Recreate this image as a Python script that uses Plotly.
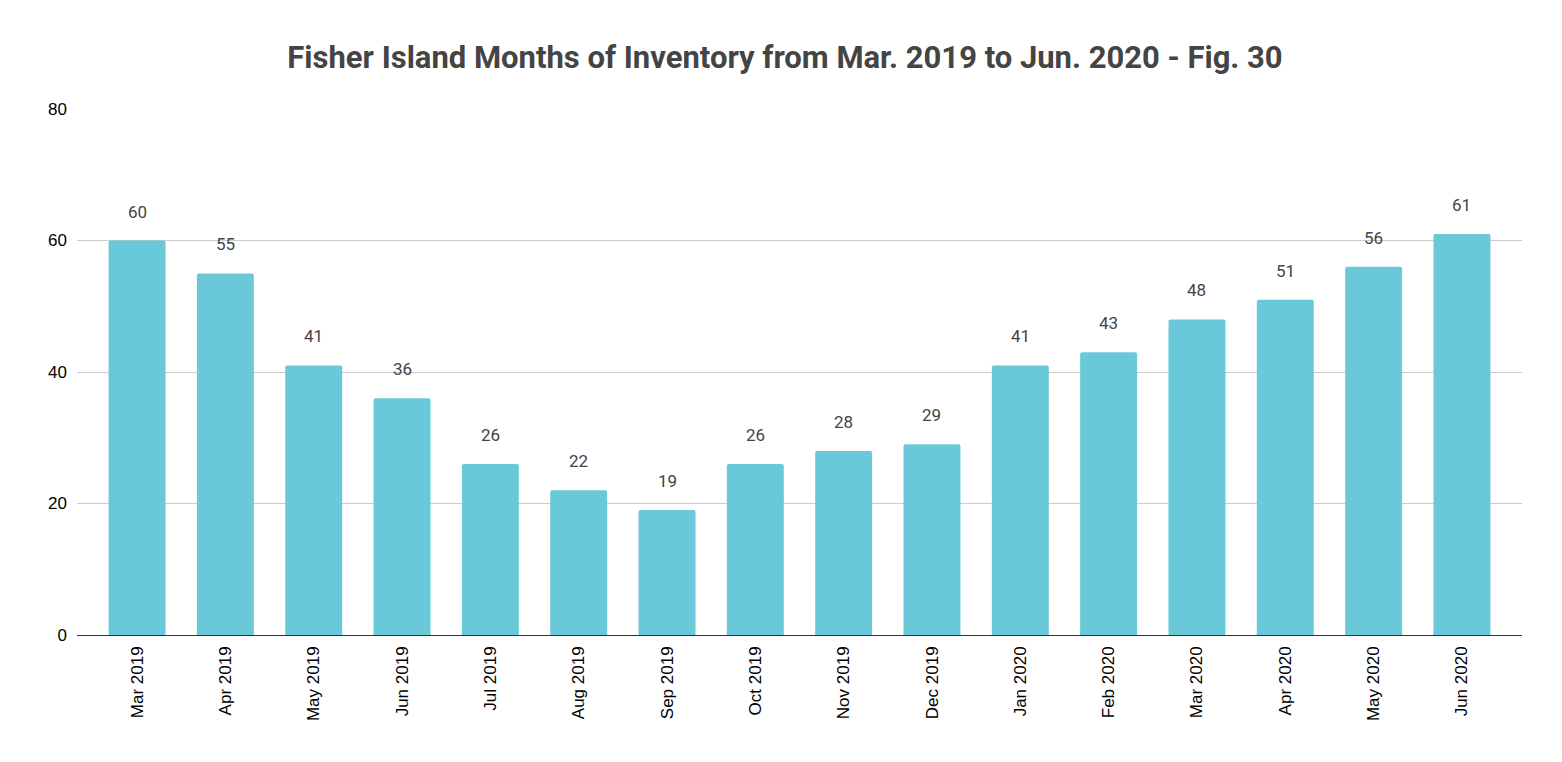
import plotly.graph_objects as go

months = ["Mar 2019", "Apr 2019", "May 2019", "Jun 2019", "Jul 2019", "Aug 2019",
          "Sep 2019", "Oct 2019", "Nov 2019", "Dec 2019", "Jan 2020", "Feb 2020",
          "Mar 2020", "Apr 2020", "May 2020", "Jun 2020"]
inventory = [60, 55, 41, 36, 26, 22, 19, 26, 28, 29, 41, 43, 48, 51, 56, 61]
y_ticks = [0, 20, 40, 60, 80]

W, H = 1554, 754

fig = go.Figure()
fig.add_trace(go.Bar(
    x=months, y=inventory,
    marker=dict(color="#69C9D9", line=dict(width=0), cornerradius=2),
    hoverinfo="x+y",
))

for m, v in zip(months, inventory):
    fig.add_annotation(x=m, y=v, text=str(v), showarrow=False, yshift=29,
                       font=dict(family="Roboto", size=17, color="#444444"))

fig.update_layout(
    width=W, height=H,
    paper_bgcolor="white", plot_bgcolor="white",
    margin=dict(l=69, r=40, t=101, b=127),
    bargap=0.355,
    showlegend=False,
    title=dict(text="<b>Fisher Island Months of Inventory from Mar. 2019 to Jun. 2020 - Fig. 30</b>",
               x=0.5, xanchor="center", y=1 - 49 / H, yanchor="middle",
               font=dict(family="Roboto", size=31, color="#444444")),
    xaxis=dict(tickangle=-90, tickfont=dict(family="Liberation Sans", size=17, color="#000000"),
               range=[-0.68, len(months) - 1 + 0.68],
               showgrid=False, showline=False, ticks="", ticklabelstandoff=7),
    yaxis=dict(range=[0, 80], tickvals=y_ticks, showgrid=True, gridcolor="#cccccc", gridwidth=1,
               zeroline=True, zerolinecolor="#333333", zerolinewidth=1,
               tickfont=dict(family="Liberation Sans", size=17, color="#000000"),
               ticks="", ticklabelstandoff=9),
)

fig.write_html("out.html")
